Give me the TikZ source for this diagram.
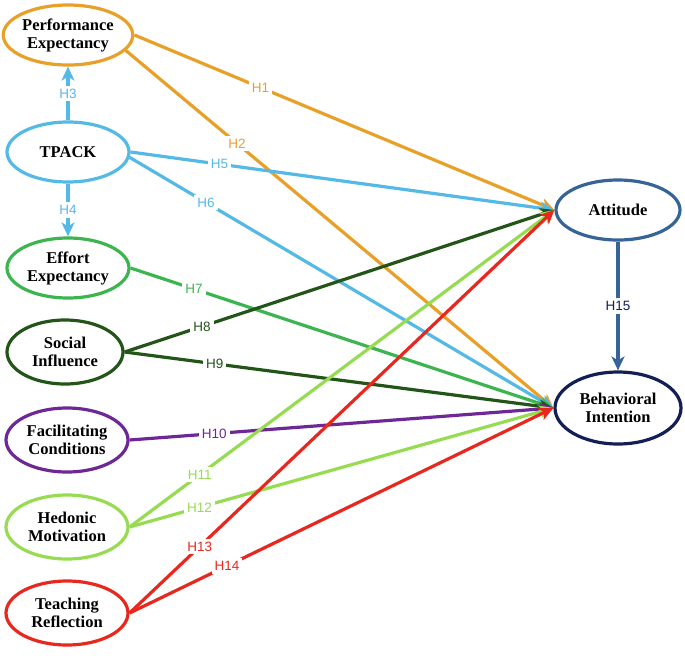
\documentclass[tikz,border=0pt]{standalone}
\usepackage{fontspec}
\setmainfont{Liberation Serif}
\newfontfamily\lab{Liberation Sans}
\usetikzlibrary{shapes.geometric,arrows.meta}
\definecolor{cOr}{RGB}{232,160,40}
\definecolor{cLb}{RGB}{85,185,230}
\definecolor{cGr}{RGB}{60,180,80}
\definecolor{cDg}{RGB}{35,85,25}
\definecolor{cPu}{RGB}{110,40,150}
\definecolor{cLg}{RGB}{150,220,80}
\definecolor{cRd}{RGB}{232,40,30}
\definecolor{cAt}{RGB}{55,100,150}
\definecolor{cBi}{RGB}{20,30,85}
\begin{document}
\begin{tikzpicture}[x=1pt,y=-1pt,
  con/.style={ellipse,draw=#1,line width=3.2pt,inner sep=0pt,minimum width=122pt,minimum height=60pt,
    align=center,font=\fontsize{16.5}{18}\selectfont\bfseries},
  ar/.style={draw=#1,line width=3.2pt,-{Stealth[length=14pt,width=13pt,inset=4pt]}},
  hl/.style={fill=white,text=#1,inner sep=3pt,font=\lab\fontsize{13.5}{13.5}\selectfont}]
\useasboundingbox (0,0) rectangle (685,670);
\node[con=cOr] (pe) at (68,35) {Performance\\Expectancy};
\node[con=cLb] (tp) at (68,152) {TPACK};
\node[con=cGr] (ee) at (68,268) {Effort\\Expectancy};
\node[con=cDg,minimum width=116pt,minimum height=64pt] (si) at (65,352) {Social\\Influence};
\node[con=cPu,minimum height=64pt] (fc) at (67,440) {Facilitating\\Conditions};
\node[con=cLg,minimum height=64pt] (hm) at (67,527) {Hedonic\\Motivation};
\node[con=cRd,minimum height=64pt] (tr) at (67,613) {Teaching\\Reflection};
\node[con=cAt,minimum width=124pt] (at) at (618,210) {Attitude};
\node[con=cBi,minimum width=126pt,minimum height=72pt] (bi) at (618,408) {Behavioral\\Intention};

\draw[ar=cLb] (tp) -- node[hl=cLb]{H3} (pe);
\draw[ar=cLb] (tp) -- node[hl=cLb]{H4} (ee);
\draw[ar=cOr] (pe.east) -- node[hl=cOr,pos=0.3]{H1} (at.west);
\draw[ar=cOr] (pe.-15) -- node[hl=cOr,pos=0.26]{H2} (bi.west);
\draw[ar=cLb] (tp.east) -- node[hl=cLb,pos=0.21]{H5} (at.west);
\draw[ar=cLb] (tp.-5) -- node[hl=cLb,pos=0.18]{H6} (bi.west);
\draw[ar=cGr] (ee.east) -- node[hl=cGr,pos=0.15]{H7} (bi.west);
\draw[ar=cDg] (si.east) -- node[hl=cDg,pos=0.18]{H8} (at.west);
\draw[ar=cDg] (si.east) -- node[hl=cDg,pos=0.21]{H9} (bi.west);
\draw[ar=cPu] (fc.east) -- node[hl=cPu,pos=0.2]{H10} (bi.west);
\draw[ar=cLg] (hm.east) -- node[hl=cLg,pos=0.165]{H11} (at.west);
\draw[ar=cLg] (hm.east) -- node[hl=cLg,pos=0.165]{H12} (bi.west);
\draw[ar=cRd] (tr.east) -- node[hl=cRd,pos=0.165]{H13} (at.west);
\draw[ar=cRd] (tr.east) -- node[hl=cRd,pos=0.23]{H14} (bi.west);
\draw[ar=cAt] (at) -- node[hl=cBi]{H15} (bi);
\end{tikzpicture}
\end{document}
